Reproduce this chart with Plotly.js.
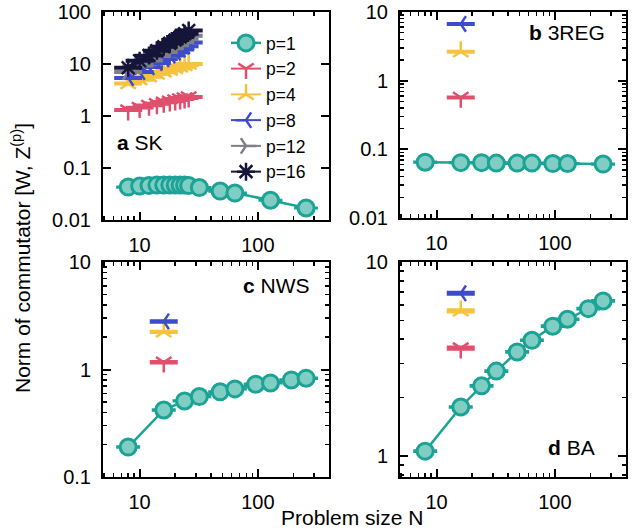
<!DOCTYPE html>
<html>
<head>
<meta charset="utf-8">
<script src="https://cdn.plot.ly/plotly-3.0.1.min.js"></script>
<style>html,body{margin:0;padding:0;background:#fff;}#chart{width:642px;height:531px;}</style>
</head>
<body>
<div id="chart"></div>
<script>
// ---------- data ----------
const N_SK_p1 = [8, 10, 12, 14, 16, 18, 20, 22, 24, 26, 32, 48, 64, 128, 256];
const SK_p1 = [0.043, 0.045, 0.046, 0.047, 0.047, 0.047, 0.047, 0.047, 0.047, 0.046, 0.042, 0.036, 0.033, 0.024, 0.017];
const N_SK = [8, 10, 12, 14, 16, 18, 20, 22, 24, 26];
const SK_p2 = [1.30, 1.45, 1.60, 1.72, 1.83, 1.93, 2.03, 2.12, 2.22, 2.32];
const SK_p4 = [4.2, 5.0, 5.7, 6.4, 7.0, 7.6, 8.2, 8.8, 9.4, 10.0];
const SK_p8 = [5.4, 7.0, 8.7, 10.5, 12.4, 14.5, 16.7, 19.0, 22.0, 26.0];
const SK_p12 = [7.0, 9.3, 11.7, 14.3, 17.0, 20.0, 23.0, 26.5, 30.0, 35.0];
const SK_p16 = [8.5, 11.5, 14.5, 18.0, 21.5, 25.0, 29.0, 33.0, 38.0, 44.0];

const N_3REG = [8, 16, 24, 32, 48, 64, 96, 128, 256];
const REG_p1 = [0.065, 0.064, 0.064, 0.063, 0.063, 0.063, 0.062, 0.062, 0.061];
const N_GRAPH = [8, 16, 24, 32, 48, 64, 96, 128, 192, 256];
const NWS_p1 = [0.19, 0.42, 0.51, 0.56, 0.62, 0.66, 0.73, 0.75, 0.80, 0.83];
const BA_p1 = [1.06, 1.79, 2.30, 2.74, 3.44, 3.95, 4.67, 5.07, 5.75, 6.30];

const N_single = [16];
const REG_p2 = [0.57], REG_p4 = [2.64], REG_p8 = [6.7];
const NWS_p2 = [1.17], NWS_p4 = [2.24], NWS_p8 = [2.8];
const BA_p2 = [3.6], BA_p4 = [5.6], BA_p8 = [6.9];

const pLabels = ['p=1', 'p=2', 'p=4', 'p=8', 'p=12', 'p=16'];

// ---------- styles ----------
const TEAL = '#1ba396', TEALFILL = '#80cdc4';
const RED = '#e0506e', YEL = '#f6c341', BLUE = '#3d4cc9', GRAY = '#7f7f86', NAVY = '#15153a';
const FONT = 'Liberation Sans, Arial, Helvetica, sans-serif';

function teal(x, y, xa, ya, legend) {
  return {
    x: x, y: y, xaxis: xa, yaxis: ya, type: 'scatter', mode: 'lines+markers',
    name: pLabels[0], showlegend: legend, legendgroup: 'g0',
    line: {color: TEAL, width: 2.5},
    marker: {symbol: 'circle', size: 16, color: TEALFILL, line: {color: TEAL, width: 3}},
    error_y: {type: 'percent', value: 0.4, color: TEAL, thickness: 3, width: 12}
  };
}
function pser(x, y, xa, ya, idx, color, symbol, legend, lines) {
  return {
    x: x, y: y, xaxis: xa, yaxis: ya, type: 'scatter', mode: lines ? 'lines+markers' : 'markers',
    name: pLabels[idx], showlegend: legend, legendgroup: 'g' + idx,
    line: {color: color, width: 2},
    marker: {symbol: symbol, size: symbol === 'asterisk' ? 15 : 13, color: color, line: {color: color, width: 2.5}},
    error_y: {type: 'percent', value: 1, color: color, thickness: 3.5, width: 14}
  };
}

const traces = [
  teal(N_SK_p1, SK_p1, 'x', 'y', true),
  pser(N_SK, SK_p2, 'x', 'y', 1, RED, 'y-down', true, true),
  pser(N_SK, SK_p4, 'x', 'y', 2, YEL, 'y-up', true, true),
  pser(N_SK, SK_p8, 'x', 'y', 3, BLUE, 'y-left', true, true),
  pser(N_SK, SK_p12, 'x', 'y', 4, GRAY, 'y-right', true, true),
  pser(N_SK, SK_p16, 'x', 'y', 5, NAVY, 'asterisk', true, true),

  teal(N_3REG, REG_p1, 'x2', 'y2', false),
  pser(N_single, REG_p2, 'x2', 'y2', 1, RED, 'y-down', false, false),
  pser(N_single, REG_p4, 'x2', 'y2', 2, YEL, 'y-up', false, false),
  pser(N_single, REG_p8, 'x2', 'y2', 3, BLUE, 'y-left', false, false),

  teal(N_GRAPH, NWS_p1, 'x3', 'y3', false),
  pser(N_single, NWS_p2, 'x3', 'y3', 1, RED, 'y-down', false, false),
  pser(N_single, NWS_p4, 'x3', 'y3', 2, YEL, 'y-up', false, false),
  pser(N_single, NWS_p8, 'x3', 'y3', 3, BLUE, 'y-left', false, false),

  teal(N_GRAPH, BA_p1, 'x4', 'y4', false),
  pser(N_single, BA_p2, 'x4', 'y4', 1, RED, 'y-down', false, false),
  pser(N_single, BA_p4, 'x4', 'y4', 2, YEL, 'y-up', false, false),
  pser(N_single, BA_p8, 'x4', 'y4', 3, BLUE, 'y-left', false, false)
];

const W = 642, H = 531;
function xd(a, b) { return [a / W, b / W]; }
function yd(top, bottom) { return [1 - bottom / H, 1 - top / H]; }

function axis(domain, range, anchor, minorOn) {
  const a = {
    type: 'log', domain: domain, range: range, anchor: anchor,
    showgrid: false, zeroline: false,
    showline: true, linecolor: '#000', linewidth: 2, mirror: 'allticks',
    ticks: 'inside', ticklen: 8, tickwidth: 2, tickcolor: '#000',
    dtick: 1, tickfont: {family: FONT, size: 20, color: '#000'},
    ticklabelstandoff: 6
  };
  if (minorOn) a.minor = {ticks: 'inside', ticklen: 4, tickwidth: 1.5, tickcolor: '#000', dtick: 'D1', showgrid: false};
  return a;
}
const XR = [Math.log10(4.9), Math.log10(400)];

const layout = {
  width: W, height: H,
  margin: {l: 0, r: 0, t: 0, b: 0},
  paper_bgcolor: '#fff', plot_bgcolor: '#fff',
  font: {family: FONT, size: 20, color: '#000'},
  xaxis: axis(xd(103, 329), XR, 'y', true),
  yaxis: axis(yd(12, 220), [-2, 2], 'x', false),
  xaxis2: axis(xd(400, 626), XR, 'y2', true),
  yaxis2: axis(yd(12, 218), [-2, 1], 'x2', true),
  xaxis3: axis(xd(103, 329), XR, 'y3', true),
  yaxis3: axis(yd(262, 477), [-1, 1], 'x3', true),
  xaxis4: axis(xd(400, 626), XR, 'y4', true),
  yaxis4: axis(yd(262, 477), [Math.log10(0.78), 1], 'x4', true),
  showlegend: true,
  legend: {
    x: 226 / W, y: 1 - 25 / H, xanchor: 'left', yanchor: 'top',
    bgcolor: 'rgba(0,0,0,0)', borderwidth: 0,
    font: {family: FONT, size: 17.5, color: '#000'},
    traceorder: 'grouped', tracegroupgap: 0, itemwidth: 30
  },
  annotations: [
    {text: '<b>a</b> SK', xref: 'paper', yref: 'paper', x: 115 / W, y: 1 - 142 / H, xanchor: 'left', yanchor: 'middle', showarrow: false, font: {family: FONT, size: 21}},
    {text: '<b>b</b> 3REG', xref: 'paper', yref: 'paper', x: 607 / W, y: 1 - 33 / H, xanchor: 'right', yanchor: 'middle', showarrow: false, font: {family: FONT, size: 21}},
    {text: '<b>c</b> NWS', xref: 'paper', yref: 'paper', x: 312 / W, y: 1 - 285 / H, xanchor: 'right', yanchor: 'middle', showarrow: false, font: {family: FONT, size: 21}},
    {text: '<b>d</b> BA', xref: 'paper', yref: 'paper', x: 597 / W, y: 1 - 447 / H, xanchor: 'right', yanchor: 'middle', showarrow: false, font: {family: FONT, size: 21}},
    {text: 'Problem size N', xref: 'paper', yref: 'paper', x: 352 / W, y: 1 - 517 / H, xanchor: 'center', yanchor: 'middle', showarrow: false, font: {family: FONT, size: 21}},
    {text: 'Norm of commutator [W, Z<sup>(p)</sup>]', xref: 'paper', yref: 'paper', x: 21 / W, y: 1 - 258 / H, xanchor: 'center', yanchor: 'middle', textangle: -90, showarrow: false, font: {family: FONT, size: 21}}
  ]
};

Plotly.newPlot('chart', traces, layout, {staticPlot: true, displayModeBar: false});
</script>
</body>
</html>
